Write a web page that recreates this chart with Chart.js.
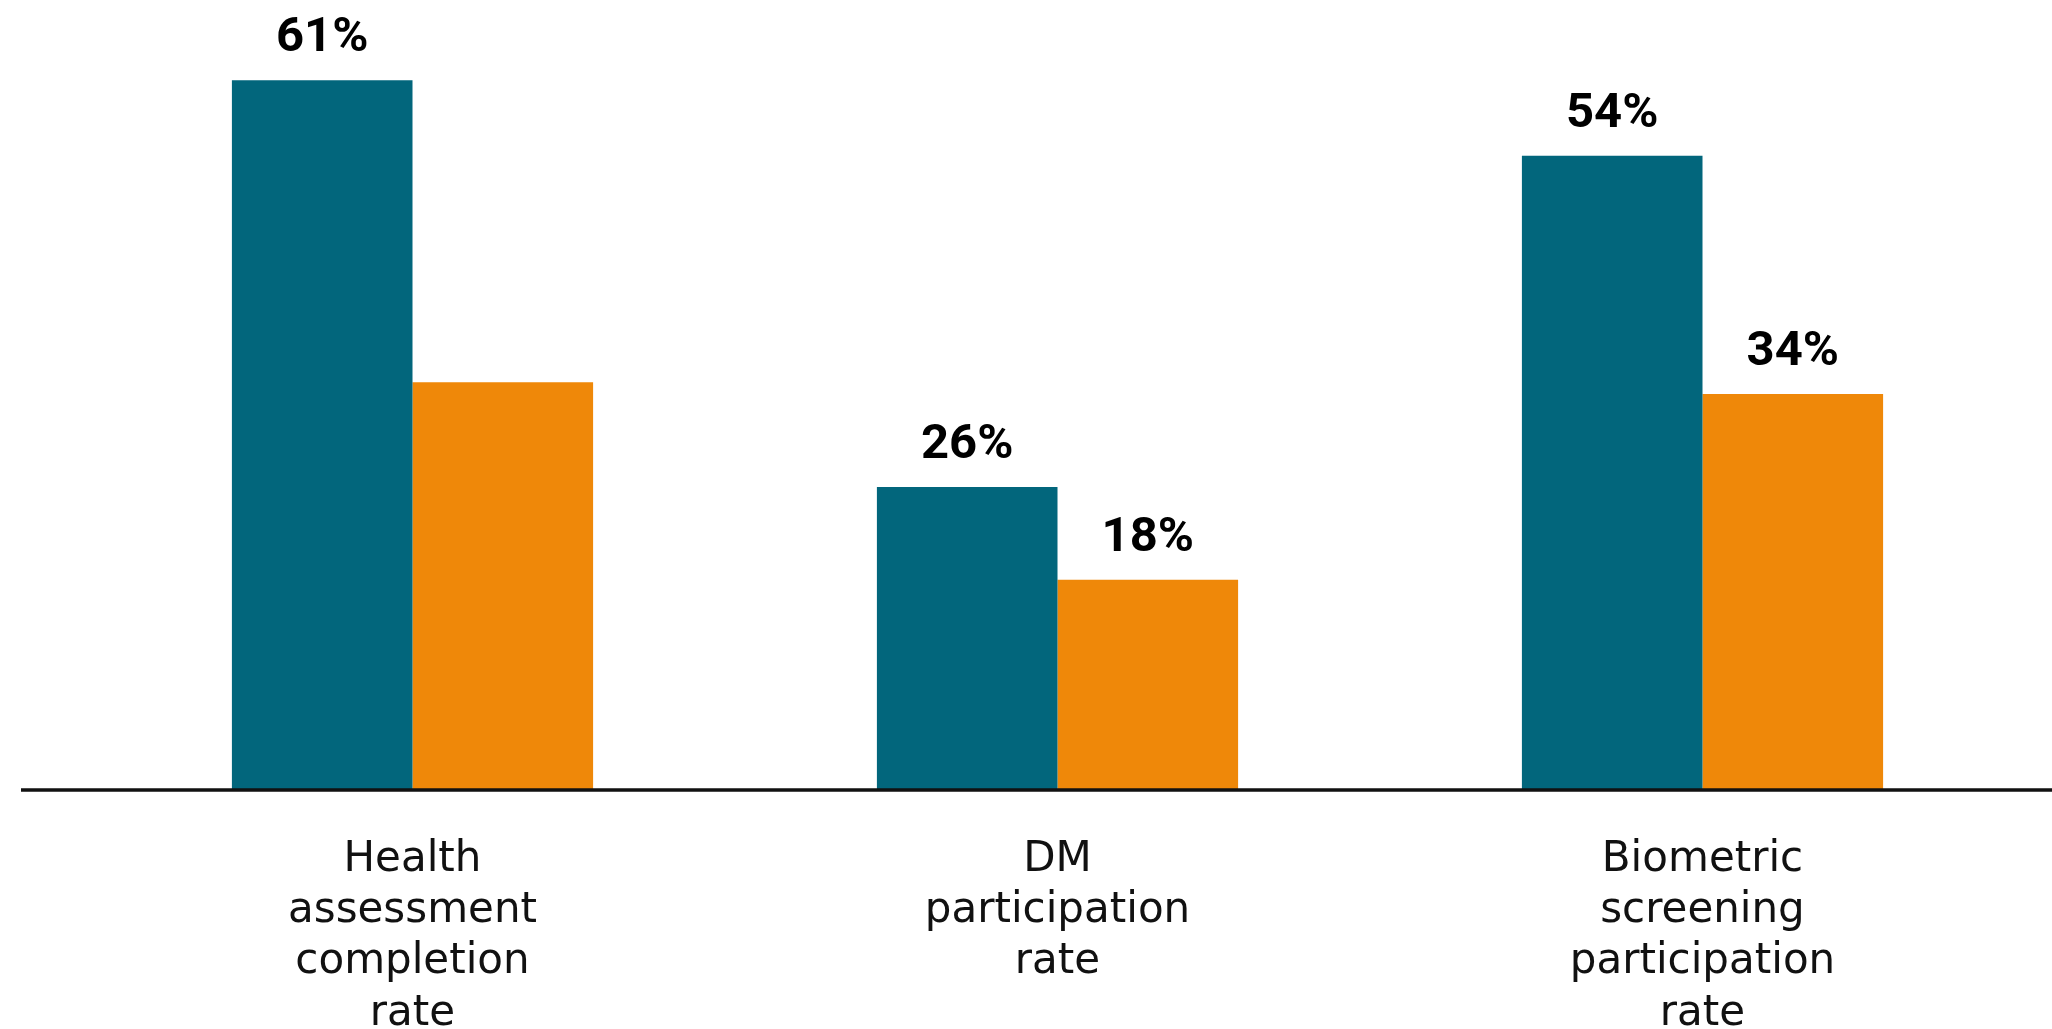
<!DOCTYPE html>
<html>
<head>
<meta charset="utf-8">
<script src="https://cdn.jsdelivr.net/npm/chart.js@4/dist/chart.umd.min.js"></script>
<style>
  html, body { margin: 0; padding: 0; background: #ffffff; }
  #wrap { width: 2052px; height: 1029px; position: relative; }
</style>
</head>
<body>
<div id="wrap"><canvas id="c" width="2052" height="1029"></canvas></div>
<script>
// ---- data ----
const categories = [
  ["Health", "assessment", "completion", "rate"],
  ["DM", "participation", "rate"],
  ["Biometric", "screening", "participation", "rate"]
];
const seriesA = [61, 26, 54.5];
const seriesB = [35, 18, 34];
const labelsA = ["61%", "26%", "54%"];
const labelsB = [null, "18%", "34%"];
const valueLabels = [labelsA, labelsB];

const TEAL = '#02667c';
const ORANGE = '#ef8809';

const valueLabelPlugin = {
  id: 'valueLabels',
  afterDatasetsDraw(chart) {
    const ctx = chart.ctx;
    ctx.save();
    ctx.font = 'bold 49px Roboto';
    ctx.fillStyle = '#000000';
    ctx.textAlign = 'center';
    ctx.textBaseline = 'alphabetic';
    chart.data.datasets.forEach((ds, di) => {
      const meta = chart.getDatasetMeta(di);
      meta.data.forEach((bar, i) => {
        const t = valueLabels[di][i];
        if (t) ctx.fillText(t, bar.x, bar.y - 29);
      });
    });
    ctx.restore();
  }
};

const baselinePlugin = {
  id: 'baseline',
  afterDatasetsDraw(chart) {
    const ctx = chart.ctx;
    const y = chart.scales.y.getPixelForValue(0);
    ctx.save();
    ctx.strokeStyle = '#111111';
    ctx.lineWidth = 3.5;
    ctx.beginPath();
    ctx.moveTo(21, y + 1);
    ctx.lineTo(chart.width, y + 1);
    ctx.stroke();
    ctx.restore();
  }
};

new Chart(document.getElementById('c'), {
  type: 'bar',
  data: {
    labels: categories,
    datasets: [
      { label: 'A', data: seriesA, backgroundColor: TEAL, borderWidth: 0,
        categoryPercentage: 0.56, barPercentage: 1.0 },
      { label: 'B', data: seriesB, backgroundColor: ORANGE, borderWidth: 0,
        categoryPercentage: 0.56, barPercentage: 1.0 }
    ]
  },
  options: {
    responsive: false,
    animation: false,
    devicePixelRatio: 1,
    layout: { padding: { left: 90, right: 27, top: 0, bottom: 0 } },
    plugins: {
      legend: { display: false },
      tooltip: { enabled: false },
      title: { display: false }
    },
    scales: {
      x: {
        grid: { display: false },
        border: { display: false },
        afterFit: (s) => { s.height = 1029 - 789; },
        ticks: {
          color: '#111111',
          autoSkip: false,
          maxRotation: 0,
          padding: 38,
          font: { family: '"DejaVu Sans"', size: 42, lineHeight: 1.215 }
        }
      },
      y: {
        display: false,
        min: 0,
        max: 67.9
      }
    }
  },
  plugins: [valueLabelPlugin, baselinePlugin]
});
</script>
</body>
</html>
